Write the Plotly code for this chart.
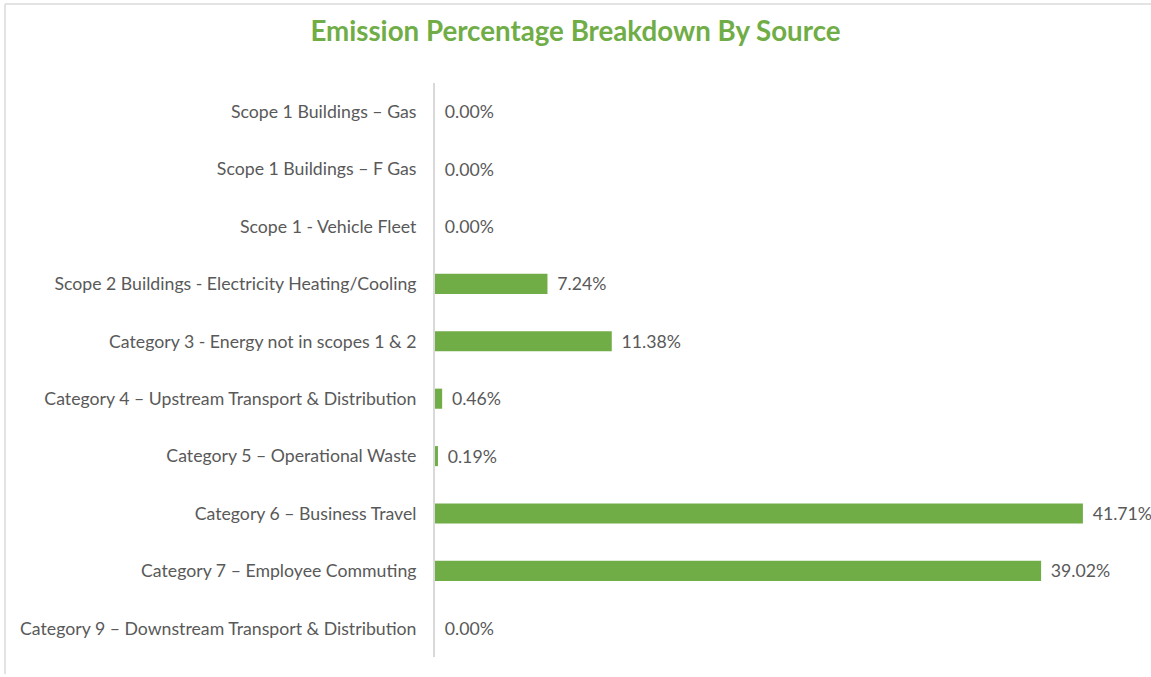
import plotly.graph_objects as go

categories = [
    "Scope 1 Buildings – Gas",
    "Scope 1 Buildings – F Gas",
    "Scope 1 - Vehicle Fleet",
    "Scope 2 Buildings - Electricity Heating/Cooling",
    "Category 3 - Energy not in scopes 1 & 2",
    "Category 4 – Upstream Transport & Distribution",
    "Category 5 – Operational Waste",
    "Category 6 – Business Travel",
    "Category 7 – Employee Commuting",
    "Category 9 – Downstream Transport & Distribution",
]
values = [0.00, 0.00, 0.00, 7.24, 11.38, 0.46, 0.19, 41.71, 39.02, 0.00]
value_labels = ["0.00%", "0.00%", "0.00%", "7.24%", "11.38%", "0.46%", "0.19%", "41.71%", "39.02%", "0.00%"]

GREEN = "#70AD47"
GRAY_TEXT = "#595959"
FONT = "Lato"

W, H = 1151, 677
L, R, T, B = 435, 17, 83, 20
XMAX = 45.0

fig = go.Figure(go.Bar(
    x=values,
    y=categories,
    orientation="h",
    marker=dict(color=GREEN, line=dict(width=0)),
    width=0.35,
    text=[" \u2009" + s for s in value_labels],
    textposition="outside",
    constraintext="none",
    cliponaxis=False,
    textfont=dict(family=FONT, size=17.7, color=GRAY_TEXT),
    hoverinfo="skip",
))

plot_w = W - L - R
plot_h = H - T - B

def px_to_paper_x(px):
    return (px - L) / plot_w

def px_to_paper_y(py):
    return (H - B - py) / plot_h

fig.update_layout(
    width=W, height=H,
    margin=dict(l=L, r=R, t=T, b=B, autoexpand=False),
    paper_bgcolor="white",
    plot_bgcolor="white",
    showlegend=False,
    title=dict(
        text="<b>Emission Percentage Breakdown By Source</b>",
        x=575.5 / W, xref="container", xanchor="center",
        y=1 - 31 / H, yref="container", yanchor="middle",
        font=dict(family=FONT, size=27.7, color=GREEN),
    ),
    xaxis=dict(
        range=[0, XMAX], visible=False, fixedrange=True,
    ),
    yaxis=dict(
        autorange="reversed",
        showline=True, linecolor="#D9D9D9", linewidth=2,
        showgrid=False, zeroline=False,
        ticks="", ticklabelstandoff=13,
        tickfont=dict(family=FONT, size=17.7, color=GRAY_TEXT),
        fixedrange=True,
    ),
    shapes=[
        dict(type="line", xref="paper", yref="paper",
             x0=px_to_paper_x(5), x1=px_to_paper_x(1151),
             y0=px_to_paper_y(4), y1=px_to_paper_y(4),
             line=dict(color="#E3E3E3", width=2)),
        dict(type="line", xref="paper", yref="paper",
             x0=px_to_paper_x(5), x1=px_to_paper_x(5),
             y0=px_to_paper_y(4), y1=px_to_paper_y(674),
             line=dict(color="#E3E3E3", width=2)),
    ],
)

fig.write_html("out.html", config={"displayModeBar": False},
               post_script="document.body.style.margin='0';")
